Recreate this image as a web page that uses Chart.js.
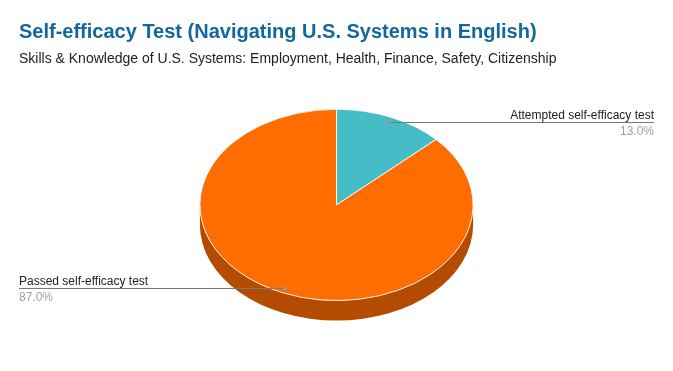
<!DOCTYPE html>
<html>
<head>
<meta charset="utf-8">
<script src="https://cdn.jsdelivr.net/npm/chart.js@4.4.1/dist/chart.umd.min.js"></script>
<style>
html, body { margin: 0; padding: 0; background: #fff; }
#wrap { width: 673px; height: 371px; }
</style>
</head>
<body>
<div id="wrap"><canvas id="pie-chart" width="673" height="371"></canvas></div>
<script>
// DATA
const sliceLabels = ['Attempted self-efficacy test', 'Passed self-efficacy test'];
const sliceValues = [13, 87];
const sliceColors = ['#46bdc6', '#ff6d00'];
const sideColors = ['#2f848b', '#b34c00'];

const TILT = 0.70;   // vertical squash of the top face
const DEPTH = 20;    // thickness of the pie edge
const FONT = 'Arial, "Liberation Sans", sans-serif';

// 3D look: draw the front edge, then squash the slices into an ellipse
const tiltPlugin = {
    id: 'tilt3d',
    beforeDatasetsDraw(chart) {
        const ctx = chart.ctx;
        const arcs = chart.getDatasetMeta(0).data;
        if (!arcs.length) return;
        const cx = arcs[0].x, cy = arcs[0].y, r = arcs[0].outerRadius;
        arcs.forEach((arc, i) => {
            // only the lower half (0..pi) of the edge is visible
            const a = Math.max(arc.startAngle, 0);
            const b = Math.min(arc.endAngle, Math.PI);
            if (b <= a) return;
            ctx.beginPath();
            ctx.ellipse(cx, cy, r, r * TILT, 0, a, b);
            ctx.ellipse(cx, cy + DEPTH, r, r * TILT, 0, b, a, true);
            ctx.closePath();
            ctx.fillStyle = sideColors[i];
            ctx.fill();
        });
        ctx.save();
        ctx.translate(cx, cy);
        ctx.scale(1, TILT);
        ctx.translate(-cx, -cy);
    },
    afterDatasetsDraw(chart) {
        chart.ctx.restore();
    }
};

// leader lines with label + percentage
const leaderPlugin = {
    id: 'leaders',
    afterDraw(chart) {
        const ctx = chart.ctx;
        const area = chart.chartArea;
        const arcs = chart.getDatasetMeta(0).data;
        const total = sliceValues.reduce((s, v) => s + v, 0);
        arcs.forEach((arc, i) => {
            const mid = (arc.startAngle + arc.endAngle) / 2;
            const px = arc.x + Math.cos(mid) * arc.outerRadius * 0.95;
            const py = Math.round(arc.y + Math.sin(mid) * arc.outerRadius * 0.95 * TILT) + 0.5;
            const right = Math.cos(mid) >= 0;
            const ex = right ? area.right : area.left;

            ctx.save();
            ctx.strokeStyle = '#777';
            ctx.lineWidth = 1;
            ctx.beginPath();
            ctx.moveTo(px, py);
            ctx.lineTo(ex, py);
            ctx.stroke();
            ctx.fillStyle = '#999';
            ctx.beginPath();
            ctx.arc(px, py, 2, 0, Math.PI * 2);
            ctx.fill();

            ctx.textAlign = right ? 'right' : 'left';
            ctx.textBaseline = 'alphabetic';
            ctx.font = '12px ' + FONT;
            ctx.fillStyle = '#222';
            ctx.fillText(sliceLabels[i], ex, py - 4);
            ctx.fillStyle = '#9e9e9e';
            ctx.fillText((sliceValues[i] / total * 100).toFixed(1) + '%', ex, py + 12);
            ctx.restore();
        });
    }
};

var pieChart;
function loadPieChart() {
    var canvas = document.getElementById('pie-chart');
    var context = canvas.getContext('2d');
    pieChart = new Chart(context, {
        type: 'pie',
        data: {
            labels: sliceLabels,
            datasets: [{
                data: sliceValues,
                backgroundColor: sliceColors,
                borderColor: '#ffffff',
                borderWidth: 1
            }]
        },
        options: {
            responsive: false,
            animation: false,
            events: [],
            layout: {
                padding: { left: 19, right: 19, top: 0, bottom: 29 }
            },
            plugins: {
                legend: { display: false },
                tooltip: { enabled: false },
                title: {
                    display: true,
                    text: 'Self-efficacy Test (Navigating U.S. Systems in English)',
                    align: 'start',
                    color: '#12679c',
                    font: { family: FONT, size: 20, weight: 'bold' },
                    padding: { top: 20, bottom: 7 }
                },
                subtitle: {
                    display: true,
                    text: 'Skills & Knowledge of U.S. Systems: Employment, Health, Finance, Safety, Citizenship',
                    align: 'start',
                    color: '#222',
                    font: { family: FONT, size: 14 },
                    padding: { top: 0, bottom: 0 }
                }
            }
        },
        plugins: [tiltPlugin, leaderPlugin]
    });
}

loadPieChart();
</script>
</body>
</html>
